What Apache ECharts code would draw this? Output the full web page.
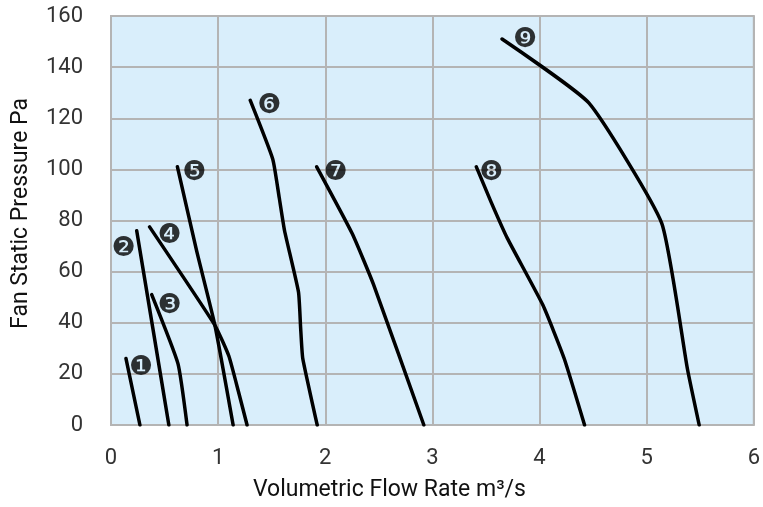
<!DOCTYPE html>
<html>
<head>
<meta charset="utf-8">
<script src="https://cdn.jsdelivr.net/npm/echarts@6/dist/echarts.min.js"></script>
<style>html,body{margin:0;padding:0;background:#fff}#c{width:763px;height:507px}</style>
</head>
<body>
<div id="c"></div>
<script>
// Fan curves: [flow m3/s, static pressure Pa]
const fan1 = [[0.14, 26], [0.27, 0]];
const fan2 = [[0.24, 76], [0.39, 38], [0.54, 0]];
const fan3 = [[0.38, 51], [0.625, 24], [0.71, 0]];
const fan4 = [[0.36, 77.5], [0.97, 39], [1.1, 27], [1.19, 13], [1.27, 0]];
const fan5 = [[0.62, 101], [0.8, 68], [0.97, 39], [1.14, 0]];
const fan6 = [[1.3, 127], [1.51, 104], [1.57, 89], [1.62, 76], [1.75, 52], [1.77, 38], [1.79, 26], [1.925, 0]];
const fan7 = [[1.92, 101], [2.25, 75], [2.45, 55], [2.92, 0]];
const fan8 = [[3.41, 101], [3.55, 87], [3.7, 73], [4.03, 47], [4.23, 26], [4.42, 0]];
const fan9 = [[3.65, 151], [4.46, 126], [5.14, 79], [5.38, 22], [5.49, 0]];
const fanCurves = [fan1, fan2, fan3, fan4, fan5, fan6, fan7, fan8, fan9];
const fanLabels = ['❶', '❷', '❸', '❹', '❺', '❻', '❼', '❽', '❾'];
const xTicks = [0, 1, 2, 3, 4, 5, 6];
const yTicks = [0, 20, 40, 60, 80, 100, 120, 140, 160];
const xName = 'Volumetric Flow Rate m³/s';
const yName = 'Fan Static Pressure Pa';

// label offsets (style)
const labelOffsets = [[15, 9], [-13, 18], [18, 11], [20, 9], [17, 6], [19, 6], [19, 6], [15, 6], [23, 1]];

const chart = echarts.init(document.getElementById('c'));
const series = fanCurves.map((d, i) => ({
  type: 'line',
  data: d,
  showSymbol: false,
  smooth: 0.15,
  lineStyle: { color: '#000', width: 3.5, cap: 'round', join: 'round' },
  silent: true,
  z: 3
}));
series.push({
  type: 'scatter',
  data: fanCurves.map((d, i) => ({
    value: d[0],
    label: { offset: labelOffsets[i] }
  })),
  symbol: 'circle',
  symbolSize: 2,
  itemStyle: { color: 'transparent' },
  label: {
    show: true,
    position: 'inside',
    formatter: p => fanLabels[p.dataIndex],
    fontFamily: 'DejaVu Sans',
    fontSize: 27,
    color: '#000'
  },
  silent: true,
  z: 4
});

chart.setOption({
  animation: false,
  grid: {
    left: 111, right: 7, top: 16, bottom: 76,
    show: true, backgroundColor: '#d9eefb', borderColor: '#b4b4b4', borderWidth: 2
  },
  xAxis: {
    type: 'value', min: xTicks[0], max: xTicks[xTicks.length - 1], interval: 1,
    name: xName, nameLocation: 'middle', nameGap: 54,
    nameTextStyle: { fontFamily: 'Roboto', fontSize: 23, color: '#111', padding: [0, 86, 0, 0] },
    axisLine: { show: false }, axisTick: { show: false },
    axisLabel: { fontFamily: 'Roboto', fontSize: 22, color: '#333', margin: 22 },
    splitLine: { lineStyle: { color: '#b4b4b4', width: 2 } }
  },
  yAxis: {
    type: 'value', min: yTicks[0], max: yTicks[yTicks.length - 1], interval: 20,
    name: yName, nameLocation: 'middle', nameGap: 78,
    nameTextStyle: { fontFamily: 'Roboto', fontSize: 23, color: '#111', padding: [0, 0, 0, 14] },
    axisLine: { show: false }, axisTick: { show: false },
    axisLabel: { fontFamily: 'Roboto', fontSize: 22, color: '#333', margin: 28 },
    splitLine: { lineStyle: { color: '#b4b4b4', width: 2 } }
  },
  series: series
});
</script>
</body>
</html>
